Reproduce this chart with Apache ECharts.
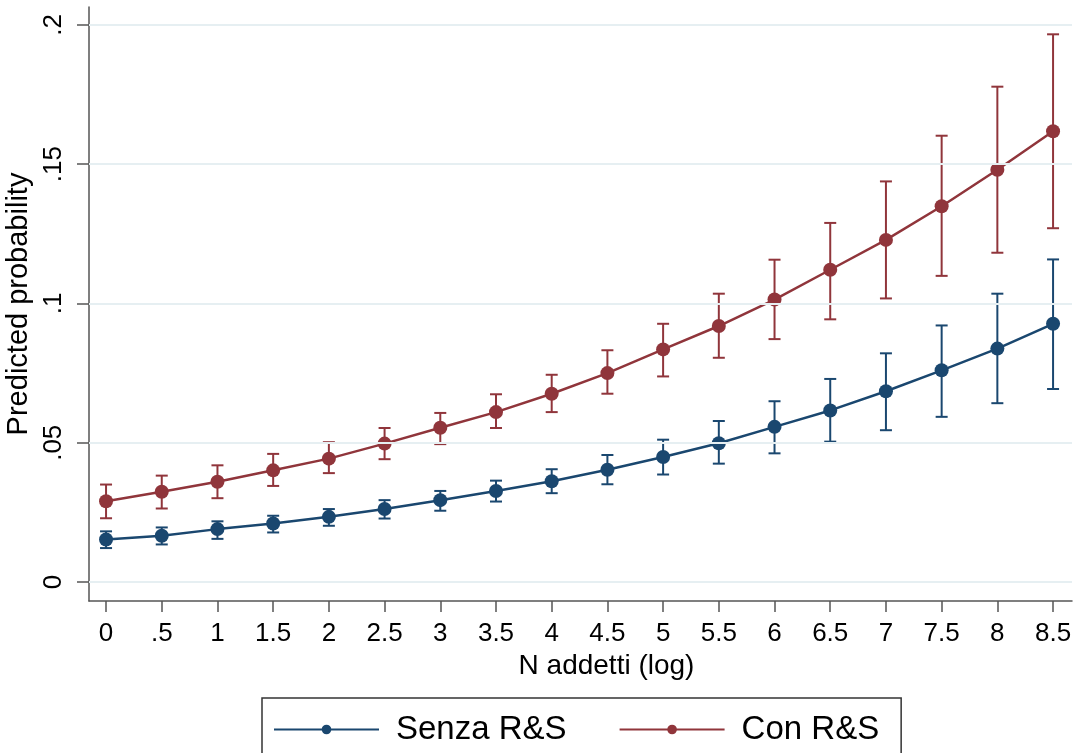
<!DOCTYPE html>
<html>
<head>
<meta charset="UTF-8">
<script src="https://cdn.jsdelivr.net/npm/echarts@6/dist/echarts.min.js"></script>
<style>
  html, body { margin: 0; padding: 0; background: #fff; }
  #graph { width: 1078px; height: 753px; }
</style>
</head>
<body>
<div id="graph"></div>
<script type="text/javascript">
// N addetti (log)
var xs = [0, 0.5, 1, 1.5, 2, 2.5, 3, 3.5, 4, 4.5, 5, 5.5, 6, 6.5, 7, 7.5, 8, 8.5];
var xTickLabels = ['0', '.5', '1', '1.5', '2', '2.5', '3', '3.5', '4', '4.5', '5', '5.5', '6', '6.5', '7', '7.5', '8', '8.5'];
var yTicks = [0, 0.05, 0.1, 0.15, 0.2];
var yTickLabels = ['0', '.05', '.1', '.15', '.2'];

// Senza R&S
var senza   = [0.0153, 0.0166, 0.0190, 0.0210, 0.0234, 0.0262, 0.0294, 0.0327, 0.0362, 0.0403, 0.0449, 0.0498, 0.0557, 0.0616, 0.0685, 0.0760, 0.0838, 0.0927];
var senzaLo = [0.0122, 0.0135, 0.0155, 0.0178, 0.0202, 0.0228, 0.0256, 0.0289, 0.0319, 0.0351, 0.0386, 0.0425, 0.0462, 0.0504, 0.0545, 0.0593, 0.0642, 0.0693];
var senzaHi = [0.0182, 0.0196, 0.0218, 0.0238, 0.0262, 0.0294, 0.0327, 0.0364, 0.0405, 0.0456, 0.0511, 0.0578, 0.0649, 0.0729, 0.0821, 0.0921, 0.1035, 0.1158];

// Con R&S
var con   = [0.0290, 0.0324, 0.0360, 0.0401, 0.0443, 0.0497, 0.0554, 0.0610, 0.0676, 0.0750, 0.0835, 0.0919, 0.1014, 0.1121, 0.1228, 0.1349, 0.1480, 0.1618];
var conLo = [0.0229, 0.0264, 0.0301, 0.0345, 0.0391, 0.0441, 0.0495, 0.0553, 0.0610, 0.0676, 0.0738, 0.0805, 0.0872, 0.0943, 0.1018, 0.1099, 0.1182, 0.1270];
var conHi = [0.0350, 0.0382, 0.0419, 0.0460, 0.0502, 0.0553, 0.0607, 0.0674, 0.0744, 0.0832, 0.0927, 0.1035, 0.1157, 0.1289, 0.1438, 0.1602, 0.1778, 0.1966];

var BLUE = '#1a476f';
var RED = '#90353b';
var FONT = '"Liberation Sans", Arial, sans-serif';

function pairs(ys) {
    return xs.map(function (x, i) { return [x, ys[i]]; });
}
function ciData(lo, hi) {
    return xs.map(function (x, i) { return [x, lo[i], hi[i]]; });
}
function capRender(color) {
    return function (params, api) {
        var top = api.coord([api.value(0), api.value(2)]);
        var bot = api.coord([api.value(0), api.value(1)]);
        var hw = 6;
        var st = { stroke: color, lineWidth: 2 };
        return {
            type: 'group',
            children: [
                { type: 'line', shape: { x1: top[0], y1: top[1], x2: bot[0], y2: bot[1] }, style: st },
                { type: 'line', shape: { x1: top[0] - hw, y1: top[1], x2: top[0] + hw, y2: top[1] }, style: st },
                { type: 'line', shape: { x1: bot[0] - hw, y1: bot[1], x2: bot[0] + hw, y2: bot[1] }, style: st }
            ]
        };
    };
}

var mychart = echarts.init(document.getElementById('graph'));
var option = {
    backgroundColor: '#fff',
    animation: false,
    textStyle: { fontFamily: FONT, color: '#000' },
    grid: { left: 89, right: 6, top: 7, bottom: 152, containLabel: false, outerBoundsMode: 'none' },
    legend: {
        data: ['Senza R&S', 'Con R&S'],
        left: 262,
        top: 698,
        orient: 'horizontal',
        itemWidth: 105,
        itemHeight: 12,
        itemGap: 52,
        padding: [15, 22, 40, 11],
        borderColor: '#333',
        borderWidth: 1.5,
        textStyle: { fontSize: 33, fontFamily: FONT, color: '#000', padding: [0, 0, 0, 12] }
    },
    xAxis: {
        type: 'value',
        min: -0.153,
        max: 8.67,
        name: 'N addetti (log)',
        nameLocation: 'middle',
        nameGap: 48,
        nameTextStyle: { fontSize: 28, fontFamily: FONT, color: '#000', padding: [0, 0, 0, 52] },
        axisLine: { show: true, onZero: false, lineStyle: { color: '#555', width: 1.5 } },
        axisTick: { show: true, length: 11, customValues: xs, lineStyle: { color: '#555', width: 1.5 } },
        axisLabel: {
            customValues: xs,
            margin: 20,
            fontSize: 26,
            fontFamily: FONT,
            color: '#000',
            formatter: function (v) { return xTickLabels[xs.indexOf(v)]; }
        },
        splitLine: { show: false }
    },
    yAxis: {
        type: 'value',
        min: -0.0068,
        max: 0.2064,
        name: 'Predicted probability',
        nameLocation: 'middle',
        nameGap: 46,
        nameTextStyle: { fontSize: 29, fontFamily: FONT, color: '#000' },
        axisLine: { show: true, onZero: false, lineStyle: { color: '#555', width: 1.5 } },
        axisTick: { show: true, length: 12, customValues: yTicks, lineStyle: { color: '#555', width: 1.5 } },
        axisLabel: {
            customValues: yTicks,
            rotate: 90,
            margin: 22,
            fontSize: 26,
            fontFamily: FONT,
            color: '#000',
            formatter: function (v) { return yTickLabels[yTicks.indexOf(v)]; }
        },
        splitLine: { show: false }
    },
    series: [
        {
            type: 'line',
            silent: true,
            data: [],
            markLine: {
                silent: true,
                symbol: 'none',
                label: { show: false },
                lineStyle: { color: '#e6eff2', width: 2, type: 'solid' },
                data: yTicks.map(function (v) { return { yAxis: v }; })
            }
        },
        {
            type: 'custom',
            renderItem: capRender(BLUE),
            data: ciData(senzaLo, senzaHi),
            z: 2
        },
        {
            type: 'custom',
            renderItem: capRender(RED),
            data: ciData(conLo, conHi),
            z: 2
        },
        {
            name: 'Senza R&S',
            type: 'line',
            data: pairs(senza),
            symbol: 'circle',
            symbolSize: 14,
            itemStyle: { color: BLUE },
            lineStyle: { color: BLUE, width: 2.5 },
            z: 3
        },
        {
            name: 'Con R&S',
            type: 'line',
            data: pairs(con),
            symbol: 'circle',
            symbolSize: 14,
            itemStyle: { color: RED },
            lineStyle: { color: RED, width: 2.5 },
            z: 3
        }
    ]
};
mychart.setOption(option, true);
</script>
</body>
</html>
